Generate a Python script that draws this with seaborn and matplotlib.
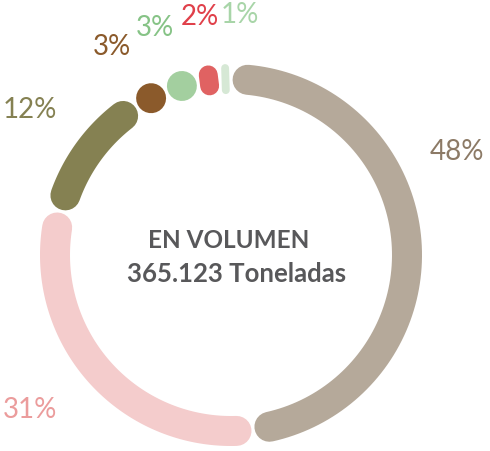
import numpy as np
import matplotlib.pyplot as plt
import seaborn as sns

# data
shares = [48, 31, 12, 3, 3, 2, 1]
pct_labels = ['48%', '31%', '12%', '3%', '3%', '2%', '1%']
ring_colors = ['#b5a99a', '#f4cccc', '#858152', '#8b5a2b', '#a3cf9f', '#e06262', '#d6e8d5']
label_colors = ['#8c7a66', '#eb9c9c', '#858152', '#8b5a2b', '#86c386', '#e0404a', '#a8d5a8']
center_title = 'EN VOLUMEN'
center_total = '365.123 Toneladas'

# layout (pixel units, axes mapped 1:1 to the image)
W, H = 490, 451
cx, cy, R, ring_w = 231, 255, 176, 30
gap = 1.6
label_pos = [(457, 152), (30, 410), (30, 110), (112, 47), (155, 28), (200, 17), (240, 15)]

sns.set_theme(style="white")
plt.rcParams['font.family'] = ['Lato', 'DejaVu Sans']

fig = plt.figure(figsize=(W / 100, H / 100), dpi=100)
ax = fig.add_axes([0, 0, 1, 1])
ax.set_xlim(0, W)
ax.set_ylim(H, 0)
ax.set_axis_off()

px2pt = 72 / 100


def pt(t, r):
    return cx + r * np.sin(t), cy - r * np.cos(t)


total = sum(shares)
start = 0.0
for share, col in zip(shares, ring_colors):
    span = 2 * np.pi * share / total
    arc_len = span * R - 2 * gap
    a0, a1 = start, start + span
    mid = (a0 + a1) / 2
    if arc_len >= ring_w:
        cap = (ring_w / 2 + gap) / R
        t = np.linspace(a0 + cap, a1 - cap, 100)
        if a1 - cap <= a0 + cap:
            t = np.array([mid - 0.002, mid + 0.002])
        x, y = pt(t, R)
        ax.plot(x, y, color=col, lw=ring_w * px2pt, solid_capstyle='round')
    else:
        half = (ring_w - arc_len) / 2
        x, y = pt(np.array([mid, mid]), np.array([R - half, R + half]))
        ax.plot(x, y, color=col, lw=arc_len * px2pt, solid_capstyle='round')
    start = a1

for lab, col, (lx, ly) in zip(pct_labels, label_colors, label_pos):
    ax.text(lx, ly, lab, color=col, fontsize=20, fontweight='normal',
            ha='center', va='center')

ax.text(cx - 2, 240, center_title, color='#58585a', fontsize=17.5, fontweight='bold',
        ha='center', va='center')
ax.text(cx + 6, 274, center_total, color='#58585a', fontsize=18.5, fontweight='bold',
        ha='center', va='center')

fig.savefig('out.png', dpi=100)
